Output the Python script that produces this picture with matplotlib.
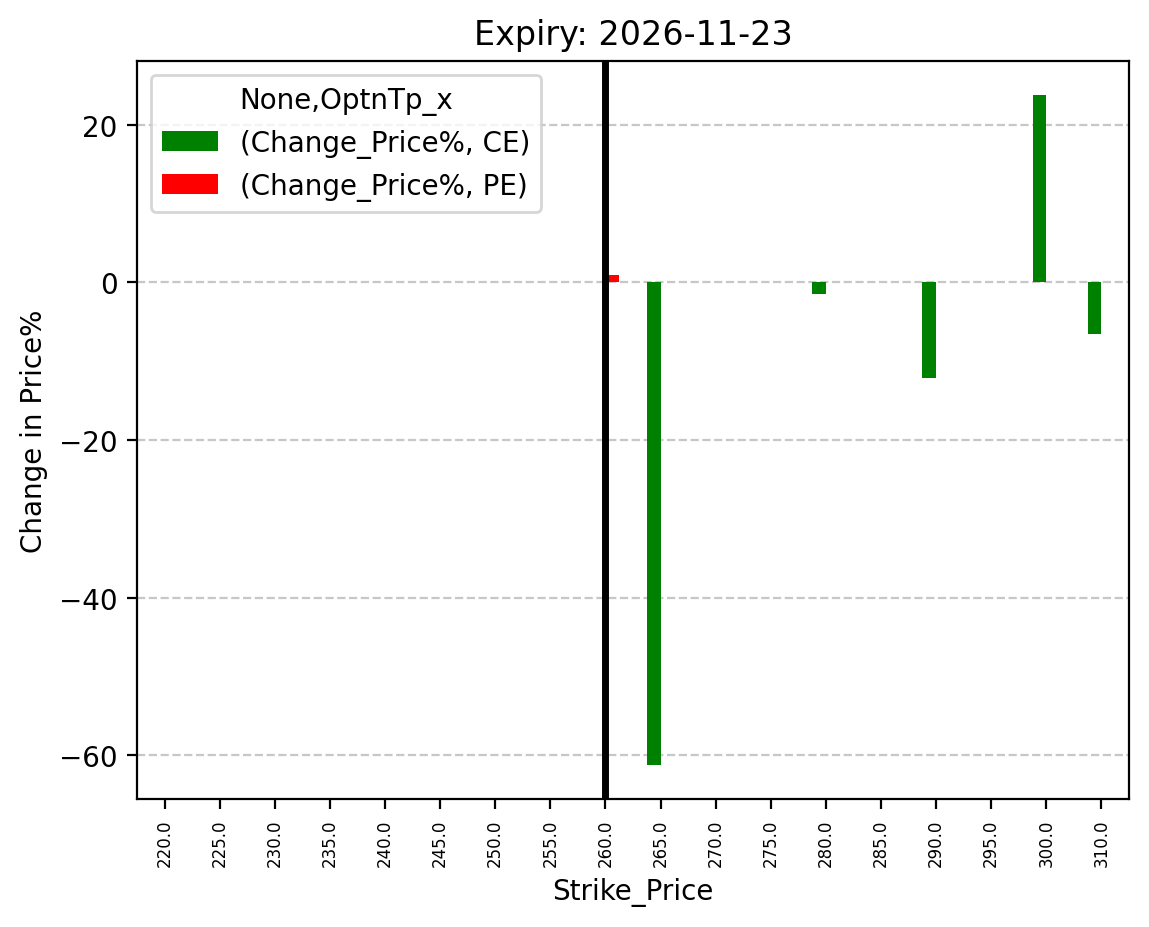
import numpy as np
import matplotlib
matplotlib.use("Agg")
import matplotlib.pyplot as plt

# Strike prices (categorical, 305 missing in the source data)
strikes = [220.0, 225.0, 230.0, 235.0, 240.0, 245.0, 250.0, 255.0, 260.0,
           265.0, 270.0, 275.0, 280.0, 285.0, 290.0, 295.0, 300.0, 310.0]
nan = np.nan
ce_change = [nan, nan, nan, nan, nan, nan, nan, nan, nan,
             -61.3, nan, nan, -1.55, nan, -12.2, nan, 23.8, -6.6]
pe_change = [nan, nan, nan, nan, nan, nan, nan, nan, 0.85,
             nan, nan, nan, nan, nan, nan, nan, nan, nan]
spot_strike = 260.0
expiry = "2026-11-23"

fig = plt.figure(figsize=(1149 / 200, 928 / 200), dpi=200)
ax = fig.add_axes([137 / 1149, 128 / 928, 992 / 1149, 738 / 928])

x = np.arange(len(strikes))
w = 0.25
ce = np.array(ce_change)
pe = np.array(pe_change)
m_ce = ~np.isnan(ce)
m_pe = ~np.isnan(pe)
ax.bar(x[m_ce] - w / 2, ce[m_ce], w, color="green", label="(Change_Price%, CE)")
ax.bar(x[m_pe] + w / 2, pe[m_pe], w, color="red", label="(Change_Price%, PE)")

ax.set_xlim(-0.5, len(strikes) - 0.5)
ax.set_xticks(x)
ax.set_xticklabels([f"{s:.1f}" for s in strikes], rotation=90, fontsize=6)

ax.axvline(strikes.index(spot_strike), color="black", linewidth=2.5)

ax.grid(axis="y", linestyle="--", alpha=0.7)
ax.set_axisbelow(True)
ax.set_title(f"Expiry: {expiry}", fontsize=12)
ax.set_xlabel("Strike_Price")
ax.set_ylabel("Change in Price%")
ax.legend(title="None,OptnTp_x", loc="upper left")

fig.savefig("out.png", dpi=200)
